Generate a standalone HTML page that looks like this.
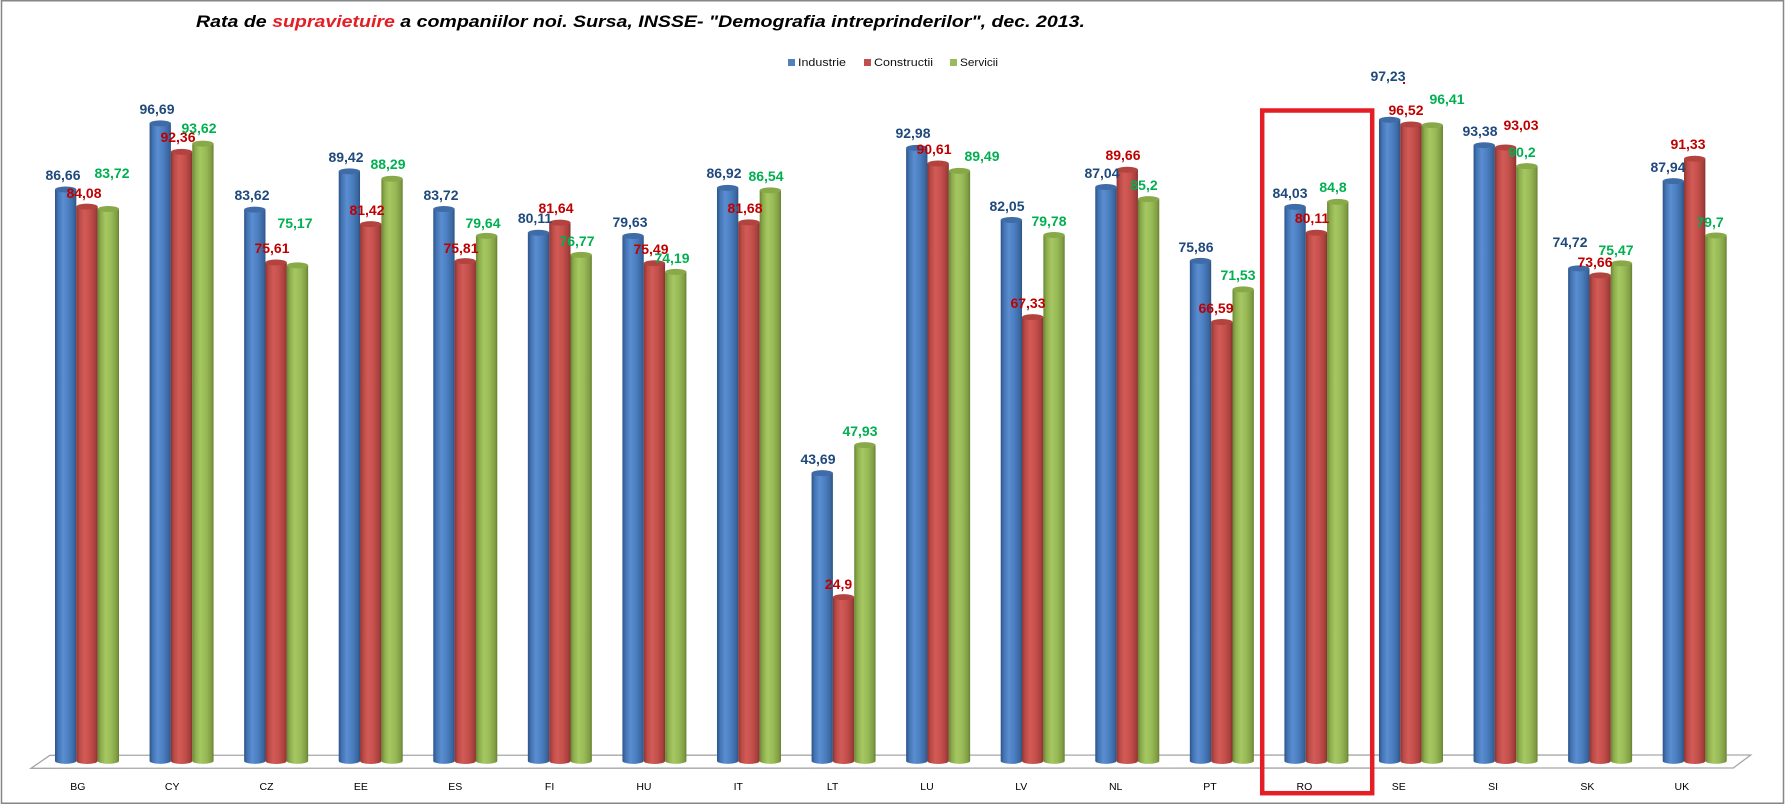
<!DOCTYPE html>
<html><head><meta charset="utf-8"><style>
html,body{margin:0;padding:0;background:#fff;}
svg{display:block;}
.t{font-family:"Liberation Sans",Arial,sans-serif;}
.lb{font-family:"Liberation Sans",Arial,sans-serif;font-weight:bold;font-size:14px;text-anchor:middle;}
.b{fill:#1f497d}.r{fill:#c00000}.g{fill:#00b050}
.cat{font-family:"Liberation Sans",Arial,sans-serif;font-size:10.5px;text-anchor:middle;fill:#000;}
</style></head><body>
<svg width="1785" height="805" viewBox="0 0 1785 805" xmlns="http://www.w3.org/2000/svg">
<defs>
<linearGradient id="gb" x1="0" x2="1" y1="0" y2="0">
<stop offset="0" stop-color="#2c5488"/><stop offset="0.15" stop-color="#4474b4"/><stop offset="0.38" stop-color="#5a8ed0"/><stop offset="0.65" stop-color="#4a7ec0"/><stop offset="0.9" stop-color="#3a669e"/><stop offset="1" stop-color="#2c5284"/>
</linearGradient>
<linearGradient id="gr" x1="0" x2="1" y1="0" y2="0">
<stop offset="0" stop-color="#8e3431"/><stop offset="0.15" stop-color="#bb4a46"/><stop offset="0.38" stop-color="#d25b57"/><stop offset="0.65" stop-color="#c44f4b"/><stop offset="0.9" stop-color="#a53f3c"/><stop offset="1" stop-color="#86302e"/>
</linearGradient>
<linearGradient id="gg" x1="0" x2="1" y1="0" y2="0">
<stop offset="0" stop-color="#6a8533"/><stop offset="0.15" stop-color="#8dad4d"/><stop offset="0.38" stop-color="#a6c862"/><stop offset="0.65" stop-color="#98b957"/><stop offset="0.9" stop-color="#7f9d42"/><stop offset="1" stop-color="#667f31"/>
</linearGradient>
</defs>
<rect x="1.5" y="0.75" width="1782" height="802.5" fill="#fff" stroke="#868686" stroke-width="1.5"/>

<text class="t" x="196" y="27" font-size="17" font-weight="bold" font-style="italic" textLength="889" lengthAdjust="spacingAndGlyphs">Rata de <tspan fill="#e31e24">supravietuire</tspan> a companiilor noi. Sursa, INSSE- "Demografia intreprinderilor", dec. 2013.</text>

<rect x="788" y="59" width="7" height="7" fill="#4f81bd"/>
<text class="t" x="798" y="66" font-size="11" fill="#111" textLength="48" lengthAdjust="spacingAndGlyphs">Industrie</text>
<rect x="864" y="59" width="7" height="7" fill="#c0504d"/>
<text class="t" x="874" y="66" font-size="11" fill="#111" textLength="59" lengthAdjust="spacingAndGlyphs">Constructii</text>
<rect x="950" y="59" width="7" height="7" fill="#9bbb59"/>
<text class="t" x="960" y="66" font-size="11" fill="#111" textLength="38" lengthAdjust="spacingAndGlyphs">Servicii</text>

<polygon points="31,768.3 50,755.3 1750.7,755 1733.3,768" fill="#fff" stroke="#a6a6a6" stroke-width="1.3"/>

<!-- bars -->
<g id="bars">
<g transform="translate(87,0)">
<path d="M-32,189.54V761A10.67,3 0 0 0 -10.67,761V189.54Z" fill="url(#gb)"/><ellipse cx="-21.33" cy="189.54" rx="10.67" ry="3" fill="#3f6ba7"/>
<path d="M-10.67,206.57V761A10.67,3 0 0 0 10.67,761V206.57Z" fill="url(#gr)"/><ellipse cx="0" cy="206.57" rx="10.67" ry="3" fill="#b3433f"/>
<path d="M10.67,208.95V761A10.67,3 0 0 0 32,761V208.95Z" fill="url(#gg)"/><ellipse cx="21.33" cy="208.95" rx="10.67" ry="3" fill="#88a948"/>
</g>
<g transform="translate(181.57,0)">
<path d="M-32,123.35V761A10.67,3 0 0 0 -10.67,761V123.35Z" fill="url(#gb)"/><ellipse cx="-21.33" cy="123.35" rx="10.67" ry="3" fill="#3f6ba7"/>
<path d="M-10.67,151.92V761A10.67,3 0 0 0 10.67,761V151.92Z" fill="url(#gr)"/><ellipse cx="0" cy="151.92" rx="10.67" ry="3" fill="#b3433f"/>
<path d="M10.67,143.61V761A10.67,3 0 0 0 32,761V143.61Z" fill="url(#gg)"/><ellipse cx="21.33" cy="143.61" rx="10.67" ry="3" fill="#88a948"/>
</g>
<g transform="translate(276.14,0)">
<path d="M-32,209.61V761A10.67,3 0 0 0 -10.67,761V209.61Z" fill="url(#gb)"/><ellipse cx="-21.33" cy="209.61" rx="10.67" ry="3" fill="#3f6ba7"/>
<path d="M-10.67,262.47V761A10.67,3 0 0 0 10.67,761V262.47Z" fill="url(#gr)"/><ellipse cx="0" cy="262.47" rx="10.67" ry="3" fill="#b3433f"/>
<path d="M10.67,265.38V761A10.67,3 0 0 0 32,761V265.38Z" fill="url(#gg)"/><ellipse cx="21.33" cy="265.38" rx="10.67" ry="3" fill="#88a948"/>
</g>
<g transform="translate(370.71,0)">
<path d="M-32,171.33V761A10.67,3 0 0 0 -10.67,761V171.33Z" fill="url(#gb)"/><ellipse cx="-21.33" cy="171.33" rx="10.67" ry="3" fill="#3f6ba7"/>
<path d="M-10.67,224.13V761A10.67,3 0 0 0 10.67,761V224.13Z" fill="url(#gr)"/><ellipse cx="0" cy="224.13" rx="10.67" ry="3" fill="#b3433f"/>
<path d="M10.67,178.79V761A10.67,3 0 0 0 32,761V178.79Z" fill="url(#gg)"/><ellipse cx="21.33" cy="178.79" rx="10.67" ry="3" fill="#88a948"/>
</g>
<g transform="translate(465.28,0)">
<path d="M-32,208.95V761A10.67,3 0 0 0 -10.67,761V208.95Z" fill="url(#gb)"/><ellipse cx="-21.33" cy="208.95" rx="10.67" ry="3" fill="#3f6ba7"/>
<path d="M-10.67,261.15V761A10.67,3 0 0 0 10.67,761V261.15Z" fill="url(#gr)"/><ellipse cx="0" cy="261.15" rx="10.67" ry="3" fill="#b3433f"/>
<path d="M10.67,235.88V761A10.67,3 0 0 0 32,761V235.88Z" fill="url(#gg)"/><ellipse cx="21.33" cy="235.88" rx="10.67" ry="3" fill="#88a948"/>
</g>
<g transform="translate(559.85,0)">
<path d="M-32,232.77V761A10.67,3 0 0 0 -10.67,761V232.77Z" fill="url(#gb)"/><ellipse cx="-21.33" cy="232.77" rx="10.67" ry="3" fill="#3f6ba7"/>
<path d="M-10.67,222.68V761A10.67,3 0 0 0 10.67,761V222.68Z" fill="url(#gr)"/><ellipse cx="0" cy="222.68" rx="10.67" ry="3" fill="#b3433f"/>
<path d="M10.67,254.82V761A10.67,3 0 0 0 32,761V254.82Z" fill="url(#gg)"/><ellipse cx="21.33" cy="254.82" rx="10.67" ry="3" fill="#88a948"/>
</g>
<g transform="translate(654.42,0)">
<path d="M-32,235.94V761A10.67,3 0 0 0 -10.67,761V235.94Z" fill="url(#gb)"/><ellipse cx="-21.33" cy="235.94" rx="10.67" ry="3" fill="#3f6ba7"/>
<path d="M-10.67,263.27V761A10.67,3 0 0 0 10.67,761V263.27Z" fill="url(#gr)"/><ellipse cx="0" cy="263.27" rx="10.67" ry="3" fill="#b3433f"/>
<path d="M10.67,271.85V761A10.67,3 0 0 0 32,761V271.85Z" fill="url(#gg)"/><ellipse cx="21.33" cy="271.85" rx="10.67" ry="3" fill="#88a948"/>
</g>
<g transform="translate(748.99,0)">
<path d="M-32,187.83V761A10.67,3 0 0 0 -10.67,761V187.83Z" fill="url(#gb)"/><ellipse cx="-21.33" cy="187.83" rx="10.67" ry="3" fill="#3f6ba7"/>
<path d="M-10.67,222.41V761A10.67,3 0 0 0 10.67,761V222.41Z" fill="url(#gr)"/><ellipse cx="0" cy="222.41" rx="10.67" ry="3" fill="#b3433f"/>
<path d="M10.67,190.34V761A10.67,3 0 0 0 32,761V190.34Z" fill="url(#gg)"/><ellipse cx="21.33" cy="190.34" rx="10.67" ry="3" fill="#88a948"/>
</g>
<g transform="translate(843.56,0)">
<path d="M-32,473.15V761A10.67,3 0 0 0 -10.67,761V473.15Z" fill="url(#gb)"/><ellipse cx="-21.33" cy="473.15" rx="10.67" ry="3" fill="#3f6ba7"/>
<path d="M-10.67,597.16V761A10.67,3 0 0 0 10.67,761V597.16Z" fill="url(#gr)"/><ellipse cx="0" cy="597.16" rx="10.67" ry="3" fill="#b3433f"/>
<path d="M10.67,445.16V761A10.67,3 0 0 0 32,761V445.16Z" fill="url(#gg)"/><ellipse cx="21.33" cy="445.16" rx="10.67" ry="3" fill="#88a948"/>
</g>
<g transform="translate(938.13,0)">
<path d="M-32,147.83V761A10.67,3 0 0 0 -10.67,761V147.83Z" fill="url(#gb)"/><ellipse cx="-21.33" cy="147.83" rx="10.67" ry="3" fill="#3f6ba7"/>
<path d="M-10.67,163.47V761A10.67,3 0 0 0 10.67,761V163.47Z" fill="url(#gr)"/><ellipse cx="0" cy="163.47" rx="10.67" ry="3" fill="#b3433f"/>
<path d="M10.67,170.87V761A10.67,3 0 0 0 32,761V170.87Z" fill="url(#gg)"/><ellipse cx="21.33" cy="170.87" rx="10.67" ry="3" fill="#88a948"/>
</g>
<g transform="translate(1032.7,0)">
<path d="M-32,219.97V761A10.67,3 0 0 0 -10.67,761V219.97Z" fill="url(#gb)"/><ellipse cx="-21.33" cy="219.97" rx="10.67" ry="3" fill="#3f6ba7"/>
<path d="M-10.67,317.12V761A10.67,3 0 0 0 10.67,761V317.12Z" fill="url(#gr)"/><ellipse cx="0" cy="317.12" rx="10.67" ry="3" fill="#b3433f"/>
<path d="M10.67,234.95V761A10.67,3 0 0 0 32,761V234.95Z" fill="url(#gg)"/><ellipse cx="21.33" cy="234.95" rx="10.67" ry="3" fill="#88a948"/>
</g>
<g transform="translate(1127.27,0)">
<path d="M-32,187.04V761A10.67,3 0 0 0 -10.67,761V187.04Z" fill="url(#gb)"/><ellipse cx="-21.33" cy="187.04" rx="10.67" ry="3" fill="#3f6ba7"/>
<path d="M-10.67,169.74V761A10.67,3 0 0 0 10.67,761V169.74Z" fill="url(#gr)"/><ellipse cx="0" cy="169.74" rx="10.67" ry="3" fill="#b3433f"/>
<path d="M10.67,199.18V761A10.67,3 0 0 0 32,761V199.18Z" fill="url(#gg)"/><ellipse cx="21.33" cy="199.18" rx="10.67" ry="3" fill="#88a948"/>
</g>
<g transform="translate(1221.84,0)">
<path d="M-32,260.82V761A10.67,3 0 0 0 -10.67,761V260.82Z" fill="url(#gb)"/><ellipse cx="-21.33" cy="260.82" rx="10.67" ry="3" fill="#3f6ba7"/>
<path d="M-10.67,322.01V761A10.67,3 0 0 0 10.67,761V322.01Z" fill="url(#gr)"/><ellipse cx="0" cy="322.01" rx="10.67" ry="3" fill="#b3433f"/>
<path d="M10.67,289.4V761A10.67,3 0 0 0 32,761V289.4Z" fill="url(#gg)"/><ellipse cx="21.33" cy="289.4" rx="10.67" ry="3" fill="#88a948"/>
</g>
<g transform="translate(1316.41,0)">
<path d="M-32,206.9V761A10.67,3 0 0 0 -10.67,761V206.9Z" fill="url(#gb)"/><ellipse cx="-21.33" cy="206.9" rx="10.67" ry="3" fill="#3f6ba7"/>
<path d="M-10.67,232.77V761A10.67,3 0 0 0 10.67,761V232.77Z" fill="url(#gr)"/><ellipse cx="0" cy="232.77" rx="10.67" ry="3" fill="#b3433f"/>
<path d="M10.67,201.82V761A10.67,3 0 0 0 32,761V201.82Z" fill="url(#gg)"/><ellipse cx="21.33" cy="201.82" rx="10.67" ry="3" fill="#88a948"/>
</g>
<g transform="translate(1410.98,0)">
<path d="M-32,119.78V761A10.67,3 0 0 0 -10.67,761V119.78Z" fill="url(#gb)"/><ellipse cx="-21.33" cy="119.78" rx="10.67" ry="3" fill="#3f6ba7"/>
<path d="M-10.67,124.47V761A10.67,3 0 0 0 10.67,761V124.47Z" fill="url(#gr)"/><ellipse cx="0" cy="124.47" rx="10.67" ry="3" fill="#b3433f"/>
<path d="M10.67,125.19V761A10.67,3 0 0 0 32,761V125.19Z" fill="url(#gg)"/><ellipse cx="21.33" cy="125.19" rx="10.67" ry="3" fill="#88a948"/>
</g>
<g transform="translate(1505.55,0)">
<path d="M-32,145.19V761A10.67,3 0 0 0 -10.67,761V145.19Z" fill="url(#gb)"/><ellipse cx="-21.33" cy="145.19" rx="10.67" ry="3" fill="#3f6ba7"/>
<path d="M-10.67,147.5V761A10.67,3 0 0 0 10.67,761V147.5Z" fill="url(#gr)"/><ellipse cx="0" cy="147.5" rx="10.67" ry="3" fill="#b3433f"/>
<path d="M10.67,166.18V761A10.67,3 0 0 0 32,761V166.18Z" fill="url(#gg)"/><ellipse cx="21.33" cy="166.18" rx="10.67" ry="3" fill="#88a948"/>
</g>
<g transform="translate(1600.12,0)">
<path d="M-32,268.35V761A10.67,3 0 0 0 -10.67,761V268.35Z" fill="url(#gb)"/><ellipse cx="-21.33" cy="268.35" rx="10.67" ry="3" fill="#3f6ba7"/>
<path d="M-10.67,275.34V761A10.67,3 0 0 0 10.67,761V275.34Z" fill="url(#gr)"/><ellipse cx="0" cy="275.34" rx="10.67" ry="3" fill="#b3433f"/>
<path d="M10.67,263.4V761A10.67,3 0 0 0 32,761V263.4Z" fill="url(#gg)"/><ellipse cx="21.33" cy="263.4" rx="10.67" ry="3" fill="#88a948"/>
</g>
<g transform="translate(1694.69,0)">
<path d="M-32,181.1V761A10.67,3 0 0 0 -10.67,761V181.1Z" fill="url(#gb)"/><ellipse cx="-21.33" cy="181.1" rx="10.67" ry="3" fill="#3f6ba7"/>
<path d="M-10.67,158.72V761A10.67,3 0 0 0 10.67,761V158.72Z" fill="url(#gr)"/><ellipse cx="0" cy="158.72" rx="10.67" ry="3" fill="#b3433f"/>
<path d="M10.67,235.48V761A10.67,3 0 0 0 32,761V235.48Z" fill="url(#gg)"/><ellipse cx="21.33" cy="235.48" rx="10.67" ry="3" fill="#88a948"/>
</g>
</g>

<!-- data labels -->
<text class="lb b" x="63" y="180">86,66</text><text class="lb r" x="84" y="198">84,08</text><text class="lb g" x="112" y="178">83,72</text>
<text class="lb b" x="157" y="114">96,69</text><text class="lb r" x="178" y="142">92,36</text><text class="lb g" x="199" y="133">93,62</text>
<text class="lb b" x="252" y="200">83,62</text><text class="lb r" x="272" y="253">75,61</text><text class="lb g" x="295" y="228">75,17</text>
<text class="lb b" x="346" y="162">89,42</text><text class="lb r" x="367" y="215">81,42</text><text class="lb g" x="388" y="169">88,29</text>
<text class="lb b" x="441" y="200">83,72</text><text class="lb r" x="461" y="253">75,81</text><text class="lb g" x="483" y="228">79,64</text>
<text class="lb b" x="535" y="223">80,11</text><text class="lb r" x="556" y="213">81,64</text><text class="lb g" x="577" y="246">76,77</text>
<text class="lb b" x="630" y="227">79,63</text><text class="lb r" x="651" y="254">75,49</text><text class="lb g" x="672" y="263">74,19</text>
<text class="lb b" x="724" y="178">86,92</text><text class="lb r" x="745" y="213">81,68</text><text class="lb g" x="766" y="181">86,54</text>
<text class="lb b" x="818" y="464">43,69</text><text class="lb r" x="838.5" y="589">24,9</text><text class="lb g" x="860" y="436">47,93</text>
<text class="lb b" x="913" y="138">92,98</text><text class="lb r" x="934" y="154">90,61</text><text class="lb g" x="982" y="161">89,49</text>
<text class="lb b" x="1007" y="211">82,05</text><text class="lb r" x="1028" y="308">67,33</text><text class="lb g" x="1049" y="226">79,78</text>
<text class="lb b" x="1102" y="178">87,04</text><text class="lb r" x="1123" y="160">89,66</text><text class="lb g" x="1144" y="190">85,2</text>
<text class="lb b" x="1196" y="252">75,86</text><text class="lb r" x="1216" y="313">66,59</text><text class="lb g" x="1238" y="280">71,53</text>
<text class="lb b" x="1290" y="198">84,03</text><text class="lb r" x="1312" y="223">80,11</text><text class="lb g" x="1333" y="192">84,8</text>
<text class="lb b" x="1388" y="81">97,23</text><text class="lb r" x="1406" y="115">96,52</text><text class="lb g" x="1447" y="104">96,41</text>
<rect x="1403" y="82" width="2" height="2" fill="#c00000"/>
<text class="lb b" x="1480" y="136">93,38</text><text class="lb r" x="1521" y="130">93,03</text><text class="lb g" x="1522" y="157">90,2</text>
<text class="lb b" x="1570" y="247">74,72</text><text class="lb r" x="1595" y="267">73,66</text><text class="lb g" x="1616" y="255">75,47</text>
<text class="lb b" x="1668" y="172">87,94</text><text class="lb r" x="1688" y="149">91,33</text><text class="lb g" x="1710" y="227">79,7</text>

<!-- category labels -->
<text class="cat" x="77.8" y="790">BG</text>
<text class="cat" x="172.2" y="790">CY</text>
<text class="cat" x="266.5" y="790">CZ</text>
<text class="cat" x="360.9" y="790">EE</text>
<text class="cat" x="455.2" y="790">ES</text>
<text class="cat" x="549.6" y="790">FI</text>
<text class="cat" x="643.9" y="790">HU</text>
<text class="cat" x="738.3" y="790">IT</text>
<text class="cat" x="832.6" y="790">LT</text>
<text class="cat" x="927" y="790">LU</text>
<text class="cat" x="1021.3" y="790">LV</text>
<text class="cat" x="1115.7" y="790">NL</text>
<text class="cat" x="1210" y="790">PT</text>
<text class="cat" x="1304.4" y="790">RO</text>
<text class="cat" x="1398.7" y="790">SE</text>
<text class="cat" x="1493.1" y="790">SI</text>
<text class="cat" x="1587.4" y="790">SK</text>
<text class="cat" x="1681.8" y="790">UK</text>

<rect x="1262.2" y="110.5" width="110" height="682.7" fill="none" stroke="#e31e24" stroke-width="4.5"/>
</svg>
</body></html>
